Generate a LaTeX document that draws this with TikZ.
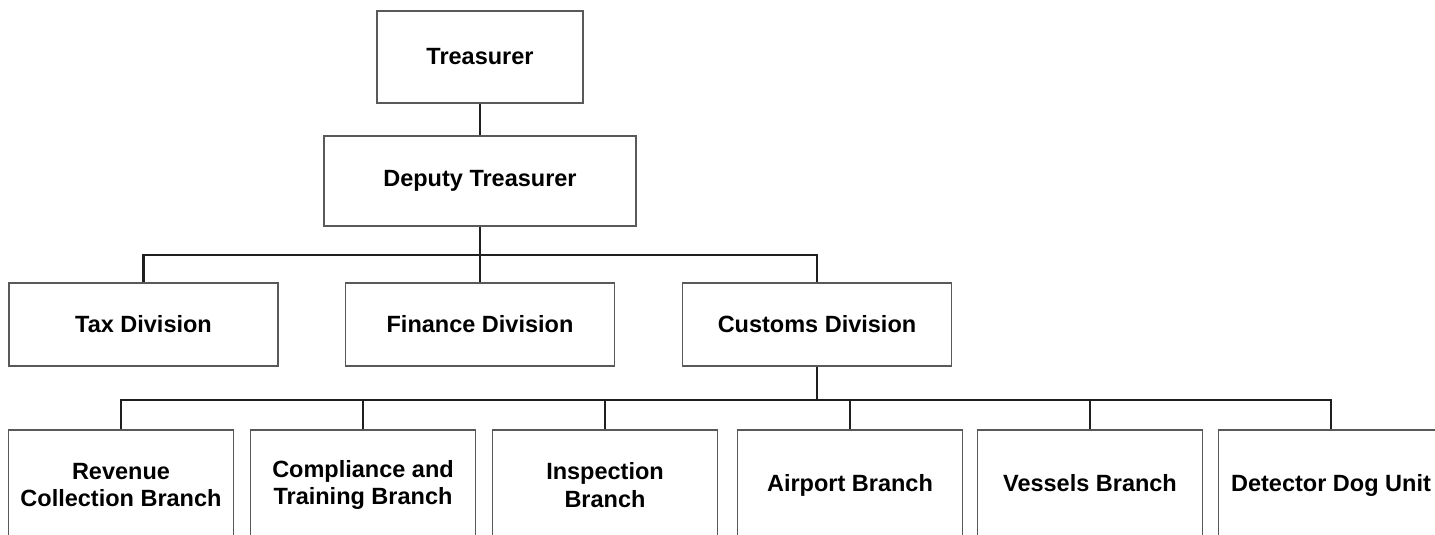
\documentclass[tikz,border=0pt]{standalone}
\usepackage{fontspec}
\setmainfont{Liberation Sans}
\usepackage{tikz}
\newcommand{\unitname}{u}

\begin{document}
\begin{tikzpicture}
  [x=1pt, y=-1pt, font=\fontsize{23.5}{27.5}\selectfont\bfseries,
   box/.style={draw=black!65, line width=1.2pt, align=center, inner sep=0pt},
   link/.style={draw=black!88, line width=2.2pt}]
    \useasboundingbox (0,0) rectangle (1435,535);
    \clip (0,0) rectangle (1435,535);
    % top of the chart
    \node[box, minimum width=206pt, minimum height=92pt] (tre) at (480,57) {Treasurer};
    \node[box, minimum width=312pt, minimum height=90pt] (dep) at (480,181) {Deputy Treasurer};
    \foreach \unitname/\x/\txt in {tax/143.5/Tax Division,fin/480/Finance Division,
                  cus/817/Customs Division}{
      \node[box, minimum width=269pt, minimum height=83pt]
      (\unitname) at (\x,324.5) {\txt}; }
    % branches
    \foreach \num/\x/\txt in {1/121/Revenue\\Collection Branch,
                  2/363/Compliance and\\Training Branch,
                  3/605/Inspection\\Branch,4/850/Airport Branch,
                  5/1090/Vessels Branch\vphantom{p},6/1331/Detector Dog Unit}{
      \node[box, minimum width=225pt, minimum height=110pt]
      (b\num) at (\x,485) {\txt}; }
    \coordinate (bus1) at (480,255);
    \coordinate (bus2) at (817,400);
    \draw[link] (tre) -- (dep);
    \draw[link] (dep) -- (fin);
    \draw[link] (tax.north) |- (bus1) -| (cus.north);
    \draw[link] (cus) -- (bus2);
    \draw[link] (b1.north) |- (bus2) -| (b6.north);
    \foreach \num in {2,3,4,5}{
      \draw[link] (b\num.north) -- (b\num.north |- bus2);}
  \end{tikzpicture}
\end{document}
